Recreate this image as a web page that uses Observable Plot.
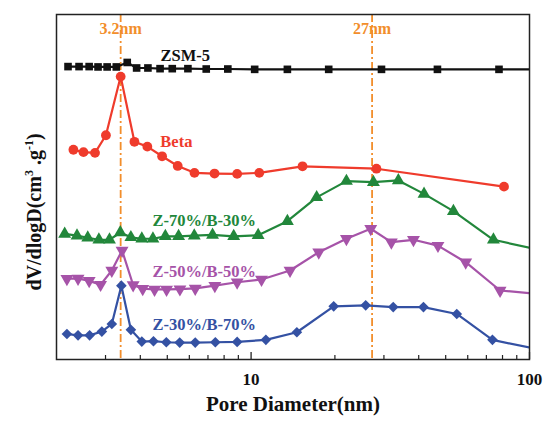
<!DOCTYPE html>
<html><head><meta charset="utf-8">
<script src="https://cdn.jsdelivr.net/npm/d3@7"></script>
<script src="https://cdn.jsdelivr.net/npm/@observablehq/plot@0.6"></script>
<style>body{margin:0;background:#fff}</style>
</head><body><div id="chart"></div>
<script>
// Pore diameter (nm) and dV/dlogD (arbitrary stacked units)
const zsmX = [2.20, 2.41, 2.62, 2.82, 3.04, 3.28, 3.59, 3.88, 4.26, 4.71, 5.21, 5.93, 6.90, 8.25, 10.3, 13.5, 19.0, 29.4, 46.7, 77.7, 105];
const zsmY = [8.49, 8.49, 8.49, 8.48, 8.48, 8.48, 8.61, 8.45, 8.45, 8.43, 8.43, 8.43, 8.42, 8.42, 8.41, 8.41, 8.41, 8.41, 8.41, 8.41, 8.41];
const betaX = [2.30, 2.50, 2.75, 3.01, 3.40, 3.81, 4.24, 4.79, 5.45, 6.26, 7.39, 8.91, 10.7, 15.3, 28.2, 81.0];
const betaY = [6.08, 6.01, 5.99, 6.50, 8.20, 6.31, 6.17, 5.89, 5.61, 5.41, 5.39, 5.38, 5.41, 5.60, 5.53, 5.01];
const z70X = [2.14, 2.37, 2.59, 2.84, 3.10, 3.39, 3.70, 4.05, 4.44, 4.92, 5.49, 6.25, 7.27, 8.66, 10.6, 13.5, 17.2, 22.0, 27.5, 33.8, 41.8, 53.3, 74.2, 105];
const z70Y = [3.64, 3.59, 3.53, 3.47, 3.47, 3.68, 3.54, 3.50, 3.50, 3.57, 3.57, 3.59, 3.61, 3.57, 3.60, 4.01, 4.70, 5.17, 5.14, 5.19, 4.80, 4.30, 3.47, 3.20];
const z50X = [2.18, 2.39, 2.62, 2.88, 3.16, 3.44, 3.77, 4.08, 4.50, 4.97, 5.55, 6.30, 7.41, 8.91, 10.9, 13.8, 17.5, 22.0, 26.9, 31.9, 38.3, 46.9, 59.0, 78.4, 105];
const z50Y = [2.34, 2.35, 2.28, 2.17, 2.58, 3.16, 2.16, 2.05, 2.03, 2.03, 2.04, 2.06, 2.14, 2.24, 2.32, 2.58, 3.11, 3.50, 3.79, 3.40, 3.47, 3.30, 2.82, 2.00, 1.91];
const z30X = [2.18, 2.39, 2.63, 2.91, 3.16, 3.42, 3.70, 4.05, 4.46, 4.96, 5.54, 6.30, 7.44, 8.91, 11.3, 14.6, 19.8, 25.8, 32.4, 41.6, 54.8, 73.6, 105];
const z30Y = [0.74, 0.70, 0.70, 0.81, 1.03, 2.14, 0.86, 0.52, 0.53, 0.50, 0.49, 0.49, 0.50, 0.51, 0.57, 0.79, 1.54, 1.57, 1.52, 1.52, 1.32, 0.57, 0.31];

const seriesNames = ["ZSM-5", "Beta", "Z-70%/B-30%", "Z-50%/B-50%", "Z-30%/B-70%"];
const labelX = [5.80, 5.39, 6.79, 6.79, 6.79];
const labelY = [8.81, 6.30, 4.03, 2.55, 1.01];
const refLines = [3.4, 27.2];
const refLabels = ["3.2nm", "27nm"];
const majorTicks = [10, 100];
const minorTicks = [3, 4, 5, 6, 7, 8, 9, 20, 30, 40, 50, 60, 70, 80, 90];

const triangleDown = {
  draw(context, size) {
    const s3 = Math.sqrt(3);
    const y = -Math.sqrt(size / (s3 * 3));
    context.moveTo(0, -y * 2);
    context.lineTo(-s3 * y, y);
    context.lineTo(s3 * y, y);
    context.closePath();
  }
};

const styles = [
  {color: "#111111", symbol: "square", r: 4.3},
  {color: "#ef3b2c", symbol: "circle", r: 4.9},
  {color: "#22873b", symbol: "triangle", r: 4.8},
  {color: "#a653a8", symbol: triangleDown, r: 4.8},
  {color: "#3451a3", symbol: "diamond2", r: 4.8}
];
const xs = [zsmX, betaX, z70X, z50X, z30X];
const ys = [zsmY, betaY, z70Y, z50Y, z30Y];

const font = "Liberation Serif";
const marks = [];
marks.push(Plot.ruleX(refLines, {stroke: "#f28e2b", strokeWidth: 1.8, strokeDasharray: "8,3,2,3"}));
seriesNames.forEach((name, i) => {
  const rows = xs[i].map((x, j) => ({x, y: ys[i][j]}));
  marks.push(Plot.line(rows, {x: "x", y: "y", stroke: styles[i].color, strokeWidth: 2.2, clip: true}));
  marks.push(Plot.dot(rows.filter(d => d.x <= 100), {x: "x", y: "y", fill: styles[i].color, stroke: "none", symbol: () => styles[i].symbol, r: styles[i].r}));
});
marks.push(Plot.text(seriesNames, {x: (d, i) => labelX[i], y: (d, i) => labelY[i], text: d => d,
  fill: (d, i) => styles[i].color, fontSize: 16.5, fontWeight: "bold", fontFamily: font}));
marks.push(Plot.text(refLabels, {x: (d, i) => refLines[i], y: 9.57, text: d => d, fill: "#f28e2b", fontSize: 16, fontWeight: "bold", fontFamily: font}));
marks.push(Plot.ruleX(majorTicks, {stroke: "#222", strokeWidth: 1.3, insetTop: 338}));
marks.push(Plot.ruleX(minorTicks, {stroke: "#222", strokeWidth: 1.2, insetTop: 341}));
marks.push(Plot.axisX(majorTicks, {tickSize: 0, tickPadding: 13, tickFormat: d => String(d), fontSize: 17, fontWeight: "bold", fontFamily: font, fill: "#111", label: null}));
marks.push(Plot.text(["Pore Diameter(nm)"], {frameAnchor: "bottom", dy: 51, text: d => d, fontSize: 21, fontWeight: "bold", fontFamily: font, fill: "#111"}));
marks.push(Plot.frame({stroke: "#222", strokeWidth: 1.5}));

const plot = Plot.plot({
  width: 545, height: 423,
  marginLeft: 56, marginRight: 16, marginTop: 14, marginBottom: 64,
  x: {type: "log", domain: [2, 100]},
  y: {domain: [0, 10], axis: null},
  style: {fontFamily: font, background: "#fff"},
  marks
});

const svg = d3.select(plot);
const t = svg.append("text")
  .attr("transform", "translate(41,212) rotate(-90)")
  .attr("text-anchor", "middle")
  .attr("fill", "#111")
  .style("font-family", font).style("font-weight", "bold").style("font-size", "20px");
t.append("tspan").text("dV/dlogD(cm");
t.append("tspan").attr("dy", -8).style("font-size", "12px").text("3");
t.append("tspan").attr("dy", 8).text(" .g");
t.append("tspan").attr("dy", -8).style("font-size", "12px").text("-1");
t.append("tspan").attr("dy", 8).text(")");

document.getElementById("chart").appendChild(plot);
</script>
</body></html>
